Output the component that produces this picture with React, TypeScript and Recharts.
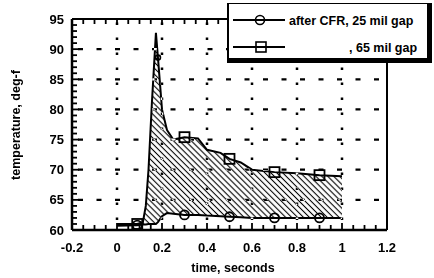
import React from 'react';
import { ComposedChart, Area, Line, XAxis, YAxis, ReferenceLine, CartesianGrid } from 'recharts';

// time axis (seconds) shared by both traces
const time = [0, 0.09, 0.115, 0.128, 0.14, 0.155, 0.173, 0.182, 0.2, 0.222, 0.25, 0.3, 0.36, 0.4, 0.46, 0.5, 0.55, 0.6, 0.7, 0.8, 0.9, 1.0];
// after CFR, 25 mil gap (circles)
const gap25 = [60.7, 60.8, 60.9, 60.9, 61, 61, 61, 61.3, 62.3, 62.8, 62.7, 62.5, 62.5, 62.4, 62.3, 62.2, 62.1, 62, 62, 62, 62, 62];
// , 65 mil gap (squares)
const gap65 = [61, 61, 61.3, 64, 70, 81, 92.7, 88.6, 80, 76.6, 75, 75.4, 75.2, 73.3, 72.8, 71.8, 71.2, 70, 69.6, 69.4, 69.1, 68.9];

const markerTimes = [0.09, 0.3, 0.5, 0.7, 0.9];
const peakMarkTime = 0.182;

const xLabels = [-0.2, 0, 0.2, 0.4, 0.6, 0.8, 1, 1.2];
const yLabels = [60, 65, 70, 75, 80, 85, 90, 95];
const xMinorTicks = Array.from({ length: 29 }, (_, i) => Math.round((-0.2 + i * 0.05) * 100) / 100);
const yMinorTicks = Array.from({ length: 36 }, (_, i) => 60 + i);
const xGrid = [0, 0.2, 0.4, 0.6, 0.8, 1];
const yGrid = [65, 70, 75, 80, 85, 90];

const data = time.map((t, i) => ({ t, lo: gap25[i], hi: gap65[i], band: [gap25[i], gap65[i]] }));

const FONT = "'Liberation Sans', Arial, Helvetica, sans-serif";
const isMajorX = (v: number) => xLabels.some(l => Math.abs(l - v) < 1e-6);
const isMajorY = (v: number) => yLabels.includes(v);

const BottomTick = (p: any) => {
  const v = p.payload.value;
  const major = isMajorX(v);
  return (
    <g>
      <line x1={p.x} x2={p.x} y1={p.y} y2={p.y - (major ? 7 : 5)} stroke="#000" strokeWidth={1.8} />
      {major && (
        <text x={p.x} y={p.y + 22} textAnchor="middle" fontFamily={FONT} fontWeight="bold" fontSize={13} fill="#000">
          {v}
        </text>
      )}
    </g>
  );
};

const TopTick = (p: any) => (
  <line x1={p.x} x2={p.x} y1={p.y} y2={p.y + (isMajorX(p.payload.value) ? 6 : 5)} stroke="#000" strokeWidth={1.8} />
);

const LeftTick = (p: any) => {
  const v = p.payload.value;
  const major = isMajorY(v);
  return (
    <g>
      <line x1={p.x} x2={p.x + (major ? 7 : 5)} y1={p.y} y2={p.y} stroke="#000" strokeWidth={1.8} />
      {major && (
        <text x={p.x - 8} y={p.y + 4.5} textAnchor="end" fontFamily={FONT} fontWeight="bold" fontSize={13} fill="#000">
          {v}
        </text>
      )}
    </g>
  );
};

const RightTick = (p: any) => (
  <line x1={p.x} x2={p.x - (isMajorY(p.payload.value) ? 7 : 5)} y1={p.y} y2={p.y} stroke="#000" strokeWidth={1.8} />
);

const squareDot = (p: any) => {
  const t = p.payload.t;
  if (markerTimes.includes(t)) {
    return <rect key={`s${p.index}`} x={p.cx - 5} y={p.cy - 5} width={10} height={10} fill="none" stroke="#000" strokeWidth={1.8} />;
  }
  if (t === peakMarkTime) {
    return <circle key={`s${p.index}`} cx={p.cx} cy={p.cy} r={2.5} fill="none" stroke="#000" strokeWidth={1.6} />;
  }
  return <g key={`s${p.index}`} />;
};

const circleDot = (p: any) => {
  if (markerTimes.includes(p.payload.t)) {
    return <circle key={`c${p.index}`} cx={p.cx} cy={p.cy} r={4.5} fill="none" stroke="#000" strokeWidth={1.8} />;
  }
  return <g key={`c${p.index}`} />;
};

export default function App() {
  return (
    <div style={{ position: 'absolute', left: 0, top: 0, width: 434, height: 278, background: '#fff' }}>
      <style>{`.recharts-reference-line-line { mix-blend-mode: difference; }`}</style>
      <svg width={0} height={0} style={{ position: 'absolute' }}>
        <defs>
          <pattern id="hatch" width={4.2} height={4.2} patternUnits="userSpaceOnUse" patternTransform="rotate(-45)">
            <line x1={2.1} y1={0} x2={2.1} y2={4.2} stroke="#000" strokeWidth={1.1} />
          </pattern>
        </defs>
      </svg>
      <ComposedChart width={434} height={278} data={data} margin={{ top: 18, right: 46, bottom: 18, left: 42 }}>
        <CartesianGrid horizontal={false} vertical={false} fill="#fff" />
        <XAxis
          dataKey="t"
          type="number"
          domain={[-0.2, 1.2]}
          ticks={xMinorTicks}
          interval={0}
          height={30}
          tickSize={0}
          tickMargin={0}
          tick={BottomTick}
          axisLine={{ stroke: '#000', strokeWidth: 2.5 }}
        />
        <XAxis
          xAxisId="top"
          orientation="top"
          dataKey="t"
          type="number"
          domain={[-0.2, 1.2]}
          ticks={xMinorTicks}
          interval={0}
          height={1}
          tickSize={0}
          tickMargin={0}
          tick={TopTick}
          axisLine={{ stroke: '#000', strokeWidth: 2 }}
        />
        <YAxis
          type="number"
          domain={[60, 95]}
          ticks={yMinorTicks}
          interval={0}
          width={30}
          tickSize={0}
          tickMargin={0}
          tick={LeftTick}
          axisLine={{ stroke: '#000', strokeWidth: 2.5 }}
        />
        <YAxis
          yAxisId="right"
          orientation="right"
          type="number"
          domain={[60, 95]}
          ticks={yMinorTicks}
          interval={0}
          width={1}
          tickSize={0}
          tickMargin={0}
          tick={RightTick}
          axisLine={{ stroke: '#000', strokeWidth: 2 }}
        />
        <Area dataKey="band" type="linear" stroke="none" fill="url(#hatch)" fillOpacity={1} isAnimationActive={false} activeDot={false} />
        <Line dataKey="hi" type="linear" stroke="#000" strokeWidth={2} dot={squareDot} activeDot={false} isAnimationActive={false} />
        <Line dataKey="lo" type="linear" stroke="#000" strokeWidth={2} dot={circleDot} activeDot={false} isAnimationActive={false} />
        {yGrid.map(v => (
          <ReferenceLine key={`h${v}`} y={v} stroke="#fff" strokeWidth={2.2} strokeDasharray="5 13.5" strokeDashoffset={-6} />
        ))}
        {xGrid.map(v => (
          <ReferenceLine key={`v${v}`} x={v} stroke="#fff" strokeWidth={2.5} strokeDasharray="2.5 12.5" strokeDashoffset={-10} />
        ))}
      </ComposedChart>
      <svg width={434} height={278} style={{ position: 'absolute', left: 0, top: 0, pointerEvents: 'none' }}>
        <text x={233} y={272} textAnchor="middle" fontFamily={FONT} fontWeight="bold" fontSize={12.5}>
          time, seconds
        </text>
        <text x={20} y={125} textAnchor="middle" fontFamily={FONT} fontWeight="bold" fontSize={12.5} transform="rotate(-90 20 125)">
          temperature, deg-f
        </text>
        <rect x={227} y={3} width={205} height={60} fill="#000" />
        <rect x={229} y={4} width={198} height={54} fill="#fff" />
        <line x1={233} x2={285} y1={20} y2={20} stroke="#000" strokeWidth={2} />
        <circle cx={260} cy={20} r={4.5} fill="none" stroke="#000" strokeWidth={1.6} />
        <text x={289} y={24.5} fontFamily={FONT} fontWeight="bold" fontSize={12.5}>
          after CFR, 25 mil gap
        </text>
        <line x1={233} x2={285} y1={47} y2={47} stroke="#000" strokeWidth={2} />
        <rect x={256} y={42} width={10} height={10} fill="none" stroke="#000" strokeWidth={1.6} />
        <text x={349} y={51.5} fontFamily={FONT} fontWeight="bold" fontSize={12.5}>
          , 65 mil gap
        </text>
      </svg>
    </div>
  );
}
